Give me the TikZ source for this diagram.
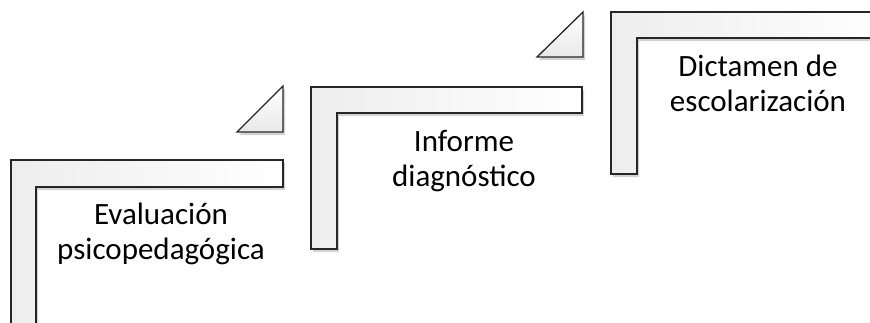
\documentclass[tikz,border=0pt]{standalone}
\usepackage{fontspec}
\setmainfont{Carlito}
\usetikzlibrary{shadows}

\tikzset{
  stair/.style={draw=black!85, line width=1.3pt, left color=gray!14, right color=white,
    drop shadow={shadow xshift=2pt, shadow yshift=-3pt, opacity=0.35}},
  wedge/.style={draw=black!85, line width=1.3pt, top color=white, bottom color=gray!18,
    drop shadow={shadow xshift=2pt, shadow yshift=-3pt, opacity=0.35}},
  steptext/.style={font=\fontsize{31}{35}\selectfont, align=center, inner sep=0pt}
}

\begin{document}
\begin{tikzpicture}[x=1pt,y=-1pt]
\useasboundingbox (0,0) rectangle (870,322);
\clip (0,0) rectangle (870,322);

% primer escalon
\draw[stair] (11,340) -- (11,160) -- (283,160) -- (283,187) -- (36,187) -- (36,340) -- cycle;
\draw[wedge] (237,132) -- (283,86) -- (283,132) -- cycle;

% segundo escalon
\draw[stair] (311,249) -- (311,87) -- (582,87) -- (582,113) -- (337,113) -- (337,249) -- cycle;
\draw[wedge] (537,57) -- (583,12) -- (583,57) -- cycle;

% tercer escalon
\draw[stair] (611,174) -- (611,12) -- (890,12) -- (890,38) -- (637,38) -- (637,174) -- cycle;

\node[steptext] (evaluacion) at (161,234) {Evaluación\\psicopedagógica};
\node[steptext] (informe) at (464,161) {Informe\\diagnóstico};
\node[steptext] (dictamen) at (758,83) {Dictamen de\\escolarización};

\end{tikzpicture}
\end{document}
